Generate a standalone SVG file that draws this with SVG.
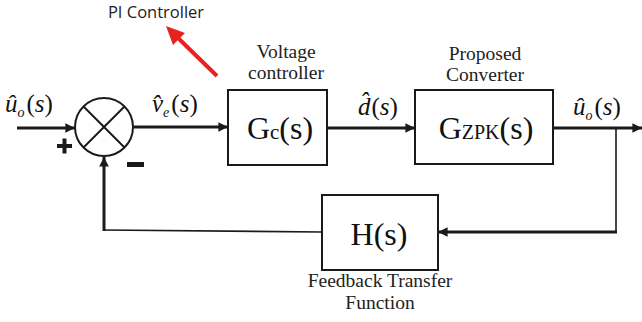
<svg xmlns="http://www.w3.org/2000/svg" width="642" height="322" viewBox="0 0 642 322">
  <style>
    .blk { fill: #fff; stroke: #1a1a1a; stroke-width: 2; }
    .wire { fill: none; stroke: #1a1a1a; stroke-width: 3; }
    .thin { fill: none; stroke: #1a1a1a; stroke-width: 1.6; }
    .cap { font-family: "Liberation Serif", serif; font-size: 19.5px; fill: #222; text-anchor: middle; }
    .big { font-family: "Liberation Serif", serif; font-size: 32px; fill: #111; text-anchor: middle; }
    .sig { font-family: "Liberation Serif", serif; font-size: 25px; font-style: italic; fill: #111; }
    .sub { font-size: 14px; }
  </style>
  <defs>
    <marker id="ah" viewBox="0 0 10 10" refX="10" refY="5" markerWidth="4" markerHeight="3.2" orient="auto" markerUnits="strokeWidth">
      <path d="M0,0 L10,5 L0,10 Z" fill="#1a1a1a"/>
    </marker>
  </defs>

  <!-- annotation -->
  <g id="pi-note">
    <text x="156" y="18" font-family="Open Sans, sans-serif" font-size="16.5" fill="#222" text-anchor="middle">PI Controller</text>
    <line x1="217" y1="76" x2="176" y2="36" stroke="#e8221f" stroke-width="4"/>
    <path d="M166,26 L185,33 L173,45 Z" fill="#e8221f"/>
  </g>

  <!-- connectors -->
  <g id="connectors">
    <line class="wire" x1="17" y1="128" x2="75" y2="128" marker-end="url(#ah)"/>
    <line class="wire" x1="134" y1="127" x2="228" y2="127" marker-end="url(#ah)"/>
    <line class="wire" x1="327" y1="128" x2="415" y2="128" marker-end="url(#ah)"/>
    <line class="wire" x1="553" y1="128" x2="642" y2="128" marker-end="url(#ah)"/>
    <line class="thin" x1="616" y1="128" x2="616" y2="232"/>
    <line class="wire" x1="617" y1="232" x2="438" y2="232" marker-end="url(#ah)"/>
    <line class="thin" x1="322" y1="232" x2="103" y2="230"/>
    <line class="wire" x1="104" y1="231" x2="104" y2="157" marker-end="url(#ah)"/>
  </g>

  <!-- summing junction -->
  <g id="sum">
    <circle cx="104" cy="127" r="29" fill="#fff" stroke="#1a1a1a" stroke-width="2"/>
    <line x1="83.5" y1="106.5" x2="124.5" y2="147.5" stroke="#1a1a1a" stroke-width="2"/>
    <line x1="124.5" y1="106.5" x2="83.5" y2="147.5" stroke="#1a1a1a" stroke-width="2"/>
    <path d="M57,146 H72 M64.5,138.5 V153.5" stroke="#1a1a1a" stroke-width="4"/>
    <rect x="127" y="162" width="17" height="5" fill="#1a1a1a"/>
  </g>

  <!-- signal labels -->
  <g id="labels">
    <text class="sig" x="5" y="112">û<tspan class="sub" dy="5">o</tspan><tspan dx="2" dy="-5" font-style="normal">(</tspan>s<tspan font-style="normal">)</tspan></text>
    <text class="sig" x="152" y="112">v̂<tspan class="sub" dy="5">e</tspan><tspan dx="2" dy="-5" font-style="normal">(</tspan>s<tspan font-style="normal">)</tspan></text>
    <text class="sig" x="358" y="115">d̂<tspan dx="1" font-style="normal">(</tspan>s<tspan font-style="normal">)</tspan></text>
    <text class="sig" x="573" y="115">û<tspan class="sub" dy="5">o</tspan><tspan dx="2" dy="-5" font-style="normal">(</tspan>s<tspan font-style="normal">)</tspan></text>
  </g>

  <!-- voltage controller -->
  <g id="gc">
    <text class="cap" x="286" y="58">Voltage</text>
    <text class="cap" x="286" y="79">controller</text>
    <rect class="blk" x="228" y="90" width="99" height="75"/>
    <text class="big" x="280" y="139">G<tspan font-size="21">c</tspan>(s)</text>
  </g>

  <!-- plant -->
  <g id="gzpk">
    <text class="cap" x="485" y="60">Proposed</text>
    <text class="cap" x="485" y="81">Converter</text>
    <rect class="blk" x="415" y="90" width="138" height="74"/>
    <text class="big" x="486" y="139">G<tspan font-size="20">ZPK</tspan>(s)</text>
  </g>

  <!-- feedback -->
  <g id="h">
    <rect class="blk" x="322" y="195" width="116" height="75"/>
    <text class="big" x="379" y="245">H(s)</text>
    <text class="cap" x="380" y="287">Feedback Transfer</text>
    <text class="cap" x="380" y="309">Function</text>
  </g>
</svg>
